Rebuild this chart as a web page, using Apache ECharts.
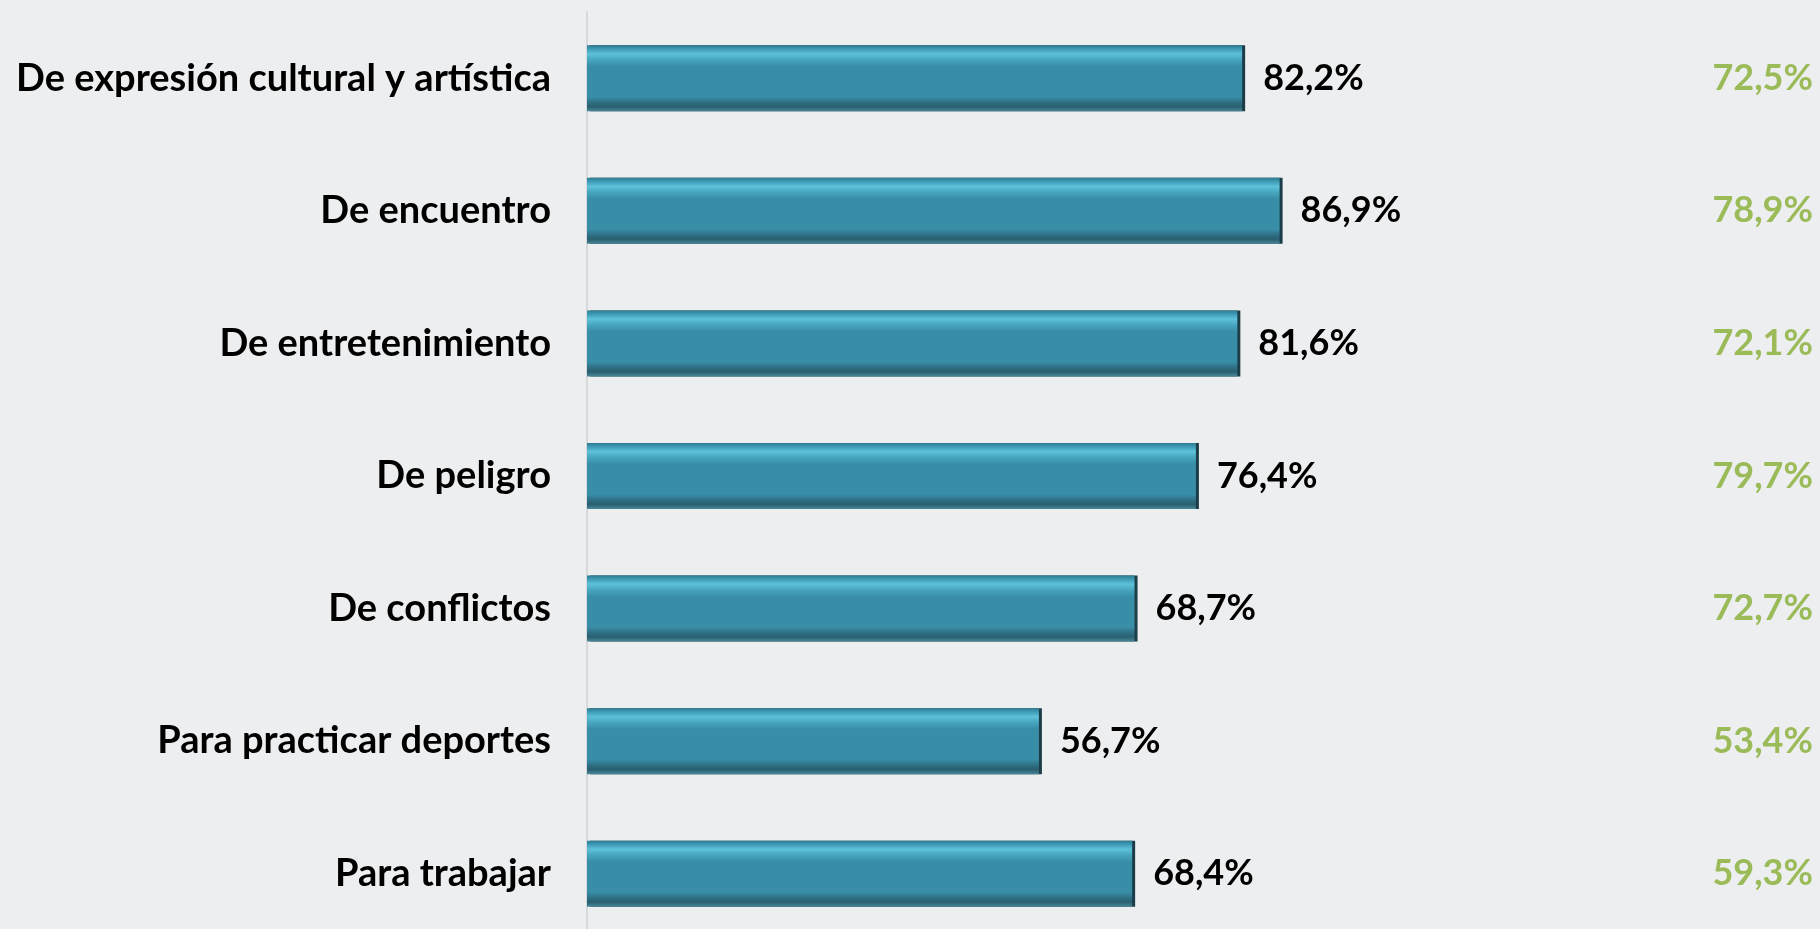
<!DOCTYPE html>
<html>
<head>
    <meta charset="utf-8">
    <script src="https://cdn.jsdelivr.net/npm/echarts@6/dist/echarts.min.js"></script>
    <style>
        html, body { margin: 0; padding: 0; background: #eceef0; }
    </style>
</head>
<body>
<div id="main" style="width: 1820px;height: 929px;"></div>
<script type="text/javascript">
    // categorías (de abajo hacia arriba en el eje)
    var categorias = ['Para trabajar', 'Para practicar deportes', 'De conflictos', 'De peligro',
        'De entretenimiento', 'De encuentro', 'De expresión cultural y artística'];
    var valores = [68.4, 56.7, 68.7, 76.4, 81.6, 86.9, 82.2];
    var valoresDerecha = [59.3, 53.4, 72.7, 79.7, 72.1, 78.9, 72.5];

    function pct(v) {
        return v.toFixed(1).replace('.', ',') + '%';
    }

    var myChart = echarts.init(document.getElementById('main'));

    var option = {
        backgroundColor: '#eceef0',
        textStyle: { fontFamily: 'Lato' },
        grid: { left: 587, right: 436, top: 12, height: 928, outerBoundsMode: 'none', containLabel: false },
        xAxis: {
            type: 'value',
            min: 0,
            max: 100,
            show: false
        },
        yAxis: [{
            type: 'category',
            data: categorias,
            axisLine: { show: true, lineStyle: { color: '#d6d8da', width: 2 } },
            axisTick: { show: false },
            axisLabel: {
                color: '#000',
                fontFamily: 'Lato',
                fontWeight: 'bold',
                fontSize: 38,
                margin: 36
            }
        }, {
            type: 'category',
            position: 'right',
            data: valoresDerecha.map(pct),
            axisLine: { show: false },
            axisTick: { show: false },
            axisLabel: {
                color: '#9bbb59',
                fontFamily: 'Lato',
                fontWeight: 'bold',
                fontSize: 36,
                align: 'right',
                margin: 429
            }
        }],
        series: [{
            type: 'bar',
            data: valores,
            barWidth: 66,
            itemStyle: {
                color: new echarts.graphic.LinearGradient(0, 0, 0, 1, [
                    { offset: 0, color: '#2d7b90' },
                    { offset: 0.05, color: '#3c98b2' },
                    { offset: 0.13, color: '#5ec1da' },
                    { offset: 0.22, color: '#47a5be' },
                    { offset: 0.32, color: '#388ea7' },
                    { offset: 0.78, color: '#388ea7' },
                    { offset: 0.86, color: '#2f7186' },
                    { offset: 0.93, color: '#295f6f' },
                    { offset: 1, color: '#4a8899' }
                ]),
                shadowColor: '#1c3d48',
                shadowOffsetX: 3,
                shadowOffsetY: 0,
                shadowBlur: 0
            },
            label: {
                show: true,
                position: 'right',
                distance: 21,
                color: '#000',
                fontFamily: 'Lato',
                fontWeight: 'bold',
                fontSize: 36,
                formatter: function (p) { return pct(p.value); }
            }
        }]
    };

    myChart.setOption(option);
</script>
</body>
</html>
